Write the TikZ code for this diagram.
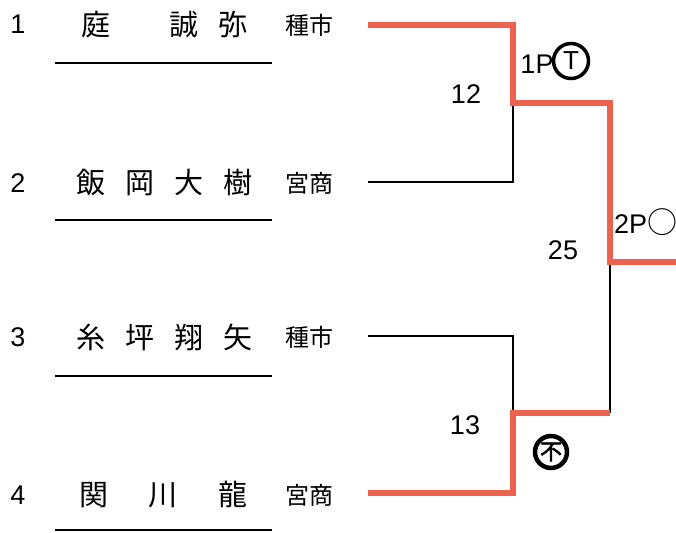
\documentclass[tikz,border=0pt]{standalone}
\usepackage{fontspec}
\setmainfont{Liberation Sans}
\newfontfamily\jp{Noto Sans CJK JP}
\newfontfamily\jpbold[FakeBold=2.5]{Noto Sans CJK JP}
\usepackage{tkz-euclide}
\usepackage{tikz}
\usepackage{amsmath}
\definecolor{winred}{RGB}{236,98,78}

\begin{document}
\begin{tikzpicture}[x=1pt,y=-1pt,line cap=butt,
    seed/.style={font=\fontsize{27}{27}\selectfont},
    player/.style={anchor=west,inner sep=0pt,font=\jp\fontsize{29}{29}\selectfont},
    school/.style={font=\jp\fontsize{24}{24}\selectfont},
    score/.style={font=\fontsize{27}{27}\selectfont}]
    %initialisation
    \useasboundingbox (0,0) rectangle (676,532);
    %definitions
    \tkzDefPoint(368,25){A1}
    \tkzDefPoint(513,25){B1}
    \tkzDefPoint(513,103){K1}
    \tkzDefPoint(610,103){M1}
    \tkzDefPoint(610,262){F}
    \tkzDefPoint(676,262){W}
    \tkzDefPoint(368,182){A2}
    \tkzDefPoint(513,182){B2}
    \tkzDefPoint(368,336){A3}
    \tkzDefPoint(513,336){B3}
    \tkzDefPoint(513,413){K2}
    \tkzDefPoint(610,413){M2}
    \tkzDefPoint(368,493){A4}
    \tkzDefPoint(513,493){B4}
    \tkzDefPoint(55,63){U1}   \tkzDefPoint(272,63){V1}
    \tkzDefPoint(55,220){U2}  \tkzDefPoint(272,220){V2}
    \tkzDefPoint(55,376){U3}  \tkzDefPoint(272,376){V3}
    \tkzDefPoint(55,530){U4}  \tkzDefPoint(272,530){V4}
    %drawing
    \tkzDrawSegments[line width=1.8pt,line cap=butt](U1,V1 U2,V2 U3,V3 U4,V4)
    \tkzDrawPolySeg[line width=1.5pt,line cap=butt](A2,B2,K1)
    \tkzDrawPolySeg[line width=1.5pt,line cap=butt](A3,B3,K2)
    \tkzDrawSegments[line width=1.5pt,line cap=butt](M2,F)
    \tkzDrawPolySeg[color=winred,line width=6pt,line cap=butt,line join=miter](A1,B1,K1,M1,F,W)
    \tkzDrawPolySeg[color=winred,line width=6pt,line cap=butt,line join=miter](A4,B4,K2,M2)
    %label
    \node[seed] (s1) at (18,24) {1};
    \node[seed] (s2) at (18,183) {2};
    \node[seed] (s3) at (18,337) {3};
    \node[seed] (s4) at (18,495) {4};
    \node[player] (p1) at (81.5,25) {庭\hspace{59pt}誠\hspace{20pt}弥};
    \node[player] (p2) at (76.5,183) {飯\hspace{20pt}岡\hspace{20pt}大\hspace{20pt}樹};
    \node[player] (p3) at (76.5,337) {糸\hspace{20pt}坪\hspace{20pt}翔\hspace{20pt}矢};
    \node[player] (p4) at (79.5,495) {関\hspace{40pt}川\hspace{41pt}龍};
    \node[school] (c1) at (309,25) {種市};
    \node[school] (c2) at (309,183) {宮商};
    \node[school] (c3) at (309,337) {種市};
    \node[school] (c4) at (309,495) {宮商};
    \node[score] (r12) at (466,94) {12};
    \node[score] (r13) at (465,425) {13};
    \node[score] (r25) at (563,250) {25};
    \node[score] (w1) at (537,64) {1P};
    \node[draw,circle,line width=3.5pt,minimum size=35pt,inner sep=0pt,
          font=\fontsize{26}{26}\selectfont] (t1) at (571,61) {T};
    \node[score,anchor=west,inner sep=0pt] (w2) at (614,222) {2P{\jp\fontsize{30}{30}\selectfont ○}};
    \node[draw,circle,line width=4.5pt,minimum size=32pt,inner sep=0pt,
          font=\jpbold\fontsize{22}{22}\selectfont] (t2) at (551,452) {不};
\end{tikzpicture}
\end{document}
